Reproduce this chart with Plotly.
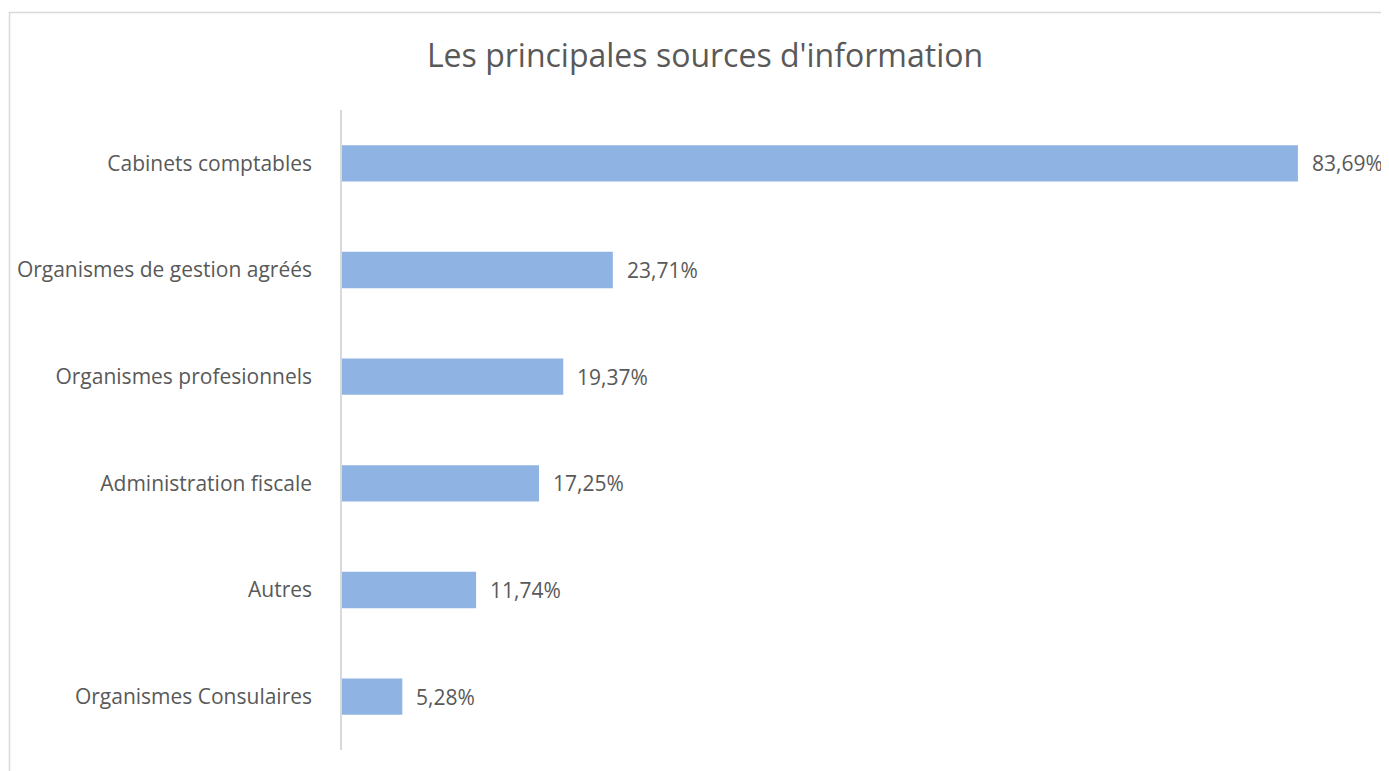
import plotly.graph_objects as go

categories = ["Cabinets comptables", "Organismes de gestion agréés", "Organismes profesionnels",
              "Administration fiscale", "Autres", "Organismes Consulaires"]
values = [83.69, 23.71, 19.37, 17.25, 11.74, 5.28]
labels = ["83,69%", "23,71%", "19,37%", "17,25%", "11,74%", "5,28%"]

FONT = "Open Sans"
TXT = "#595959"

# page body has an 8px default margin; compensate
OFF = 8
W, H = 1389 - OFF, 771 - OFF
L, T = 342 - OFF, 110 - OFF
R = 1389 - 1370
B = 21
PW = W - L - R
PH = H - T - B

fig = go.Figure()
fig.add_trace(go.Bar(
    x=values, y=categories, orientation="h",
    marker=dict(color="#8FB4E3", line=dict(width=0)),
    hoverinfo="skip",
))

for v, c, t in zip(values, categories, labels):
    fig.add_annotation(x=v, y=c, text=t, showarrow=False, xanchor="left",
                       xshift=12, font=dict(family=FONT, size=21, color=TXT))

fig.update_layout(
    width=W, height=H,
    margin=dict(l=L, r=R, t=T, b=B, autoexpand=False),
    paper_bgcolor="white", plot_bgcolor="white",
    showlegend=False,
    bargap=0.66,
    title=dict(text="Les principales sources d'information", x=(705 - OFF) / W, xanchor="center",
               y=1 - (56 - OFF) / H, yanchor="middle",
               font=dict(family=FONT, size=32, color=TXT)),
    xaxis=dict(range=[0, 90], showgrid=False, zeroline=False, showticklabels=False,
               showline=False, fixedrange=True, automargin=False),
    yaxis=dict(autorange="reversed", showgrid=False, zeroline=False, automargin=False,
               showline=True, linecolor="#d9d9d9", linewidth=1.5,
               ticks="", ticklabelstandoff=24,
               tickfont=dict(family=FONT, size=21, color=TXT)),
    shapes=[dict(type="rect", xref="paper", yref="paper",
                 x0=(9.5 - OFF - L) / PW, x1=(W + 10 - L) / PW,
                 y0=-0.1, y1=(H - (12.5 - OFF) - B) / PH,
                 line=dict(color="#d9d9d9", width=1.5), fillcolor="rgba(0,0,0,0)",
                 layer="below")],
)

fig.write_html("out.html")
